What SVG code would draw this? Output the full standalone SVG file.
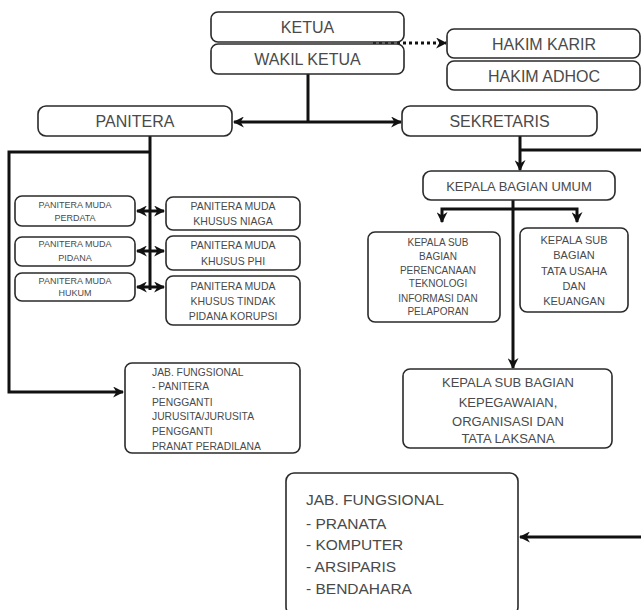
<svg xmlns="http://www.w3.org/2000/svg" width="641" height="610" viewBox="0 0 641 610">
<defs>
<style>
rect.b{fill:#fff;stroke:#2a2a2a;stroke-width:1.6}
text{font-family:"Liberation Sans",Arial,sans-serif;fill:#4a4a4a}
.c{text-anchor:middle}
.t16{font-size:16px}
.ln{fill:none;stroke:#111;stroke-width:3}
</style>
<marker id="ah" viewBox="0 0 10 10" refX="9" refY="5" markerWidth="11" markerHeight="11" markerUnits="userSpaceOnUse" orient="auto-start-reverse">
<path d="M0,0 L10,5 L0,10 L3,5 z" fill="#111"/>
</marker>
</defs>
<rect width="641" height="610" fill="#fff"/>
<g id="connectors">
<path class="ln" d="M308,74 V122"/>
<path class="ln" d="M308,122 H234" marker-end="url(#ah)"/>
<path class="ln" d="M308,122 H401" marker-end="url(#ah)"/>
<path class="ln" d="M373,43 H446" stroke-dasharray="3 3" marker-end="url(#ah)"/>
<path class="ln" d="M150,136 V290"/>
<path class="ln" d="M150,152 H9 V392 H123" marker-end="url(#ah)"/>
<path class="ln" d="M137,211 H164" marker-start="url(#ah)" marker-end="url(#ah)"/>
<path class="ln" d="M137,251 H164" marker-start="url(#ah)" marker-end="url(#ah)"/>
<path class="ln" d="M137,287 H164" marker-start="url(#ah)" marker-end="url(#ah)"/>
<path class="ln" d="M520,136 V170" marker-end="url(#ah)"/>
<path class="ln" d="M520,150 H641"/>
<path class="ln" d="M513,200 V368" marker-end="url(#ah)"/>
<path class="ln" d="M442,222 V209 H577 V222" marker-start="url(#ah)" marker-end="url(#ah)"/>
<path class="ln" d="M641,537 H520" marker-end="url(#ah)"/>
</g>
<g id="ketua"><rect class="b" x="211" y="12" width="193" height="30" rx="7"/><text class="c t16" x="307.5" y="33">KETUA</text></g>
<g id="wakil-ketua"><rect class="b" x="211" y="44" width="193" height="30" rx="7"/><text class="c t16" x="307.5" y="65">WAKIL KETUA</text></g>
<g id="hakim-karir"><rect class="b" x="447" y="29" width="193" height="29" rx="7"/><text class="c t16" x="544" y="49.5">HAKIM KARIR</text></g>
<g id="hakim-adhoc"><rect class="b" x="447" y="61" width="193" height="29" rx="7"/><text class="c t16" x="544" y="81.5">HAKIM ADHOC</text></g>
<g id="panitera"><rect class="b" x="38" y="106" width="194" height="30" rx="8"/><text class="c t16" x="135" y="127">PANITERA</text></g>
<g id="sekretaris"><rect class="b" x="402" y="106" width="195" height="30" rx="8"/><text class="c t16" x="499.5" y="127">SEKRETARIS</text></g>
<g id="pm-perdata" font-size="9"><rect class="b" x="15" y="196" width="120" height="30" rx="7"/><text class="c" x="75" y="208" font-size="9">PANITERA MUDA</text><text class="c" x="75" y="221" font-size="9">PERDATA</text></g>
<g id="pm-pidana"><rect class="b" x="15" y="237" width="120" height="29" rx="7"/><text class="c" x="75" y="247" font-size="9">PANITERA MUDA</text><text class="c" x="75" y="261" font-size="9">PIDANA</text></g>
<g id="pm-hukum"><rect class="b" x="15" y="273" width="120" height="28" rx="7"/><text class="c" x="75" y="284" font-size="9">PANITERA MUDA</text><text class="c" x="75" y="296" font-size="9">HUKUM</text></g>
<g id="pmk-niaga"><rect class="b" x="166" y="197" width="134" height="33" rx="7"/><text class="c" x="233" y="210" font-size="10.5">PANITERA MUDA</text><text class="c" x="233" y="225" font-size="10.5">KHUSUS NIAGA</text></g>
<g id="pmk-phi"><rect class="b" x="166" y="236" width="134" height="34" rx="7"/><text class="c" x="233" y="249" font-size="10.5">PANITERA MUDA</text><text class="c" x="233" y="265" font-size="10.5">KHUSUS PHI</text></g>
<g id="pmk-korupsi"><rect class="b" x="166" y="276" width="134" height="49" rx="7"/><text class="c" x="233" y="290" font-size="10.5">PANITERA MUDA</text><text class="c" x="233" y="305" font-size="10.5">KHUSUS TINDAK</text><text class="c" x="233" y="320" font-size="10.5">PIDANA KORUPSI</text></g>
<g id="jab-fungsional-panitera" font-size="10.3"><rect class="b" x="125" y="363" width="175" height="90" rx="7"/>
<text x="152" y="376" font-size="10.3">JAB. FUNGSIONAL</text><text x="152" y="390" font-size="10.3">- PANITERA</text><text x="152" y="405.5" font-size="10.3">PENGGANTI</text><text x="152" y="420" font-size="10.3">JURUSITA/JURUSITA</text><text x="152" y="435" font-size="10.3">PENGGANTI</text><text x="152" y="450" font-size="10.3">PRANAT PERADILANA</text></g>
<g id="kepala-bagian-umum"><rect class="b" x="423" y="171" width="192" height="29" rx="8"/><text class="c" x="519" y="190.5" font-size="13">KEPALA BAGIAN UMUM</text></g>
<g id="ksb-perencanaan"><rect class="b" x="368" y="232" width="132" height="90" rx="7"/>
<text class="c" x="438" y="246" font-size="10">KEPALA SUB</text><text class="c" x="438" y="260" font-size="10">BAGIAN</text><text class="c" x="438" y="274" font-size="10">PERENCANAAN</text><text class="c" x="438" y="287" font-size="10">TEKNOLOGI</text><text class="c" x="438" y="302" font-size="10">INFORMASI DAN</text><text class="c" x="438" y="315" font-size="10">PELAPORAN</text></g>
<g id="ksb-tata-usaha"><rect class="b" x="520" y="228" width="108" height="84" rx="7"/>
<text class="c" x="574" y="244" font-size="11">KEPALA SUB</text><text class="c" x="574" y="259" font-size="11">BAGIAN</text><text class="c" x="574" y="275" font-size="11">TATA USAHA</text><text class="c" x="574" y="290" font-size="11">DAN</text><text class="c" x="574" y="305" font-size="11">KEUANGAN</text></g>
<g id="ksb-kepegawaian"><rect class="b" x="403" y="369" width="209" height="79" rx="7"/>
<text class="c" x="508" y="387" font-size="13">KEPALA SUB BAGIAN</text><text class="c" x="508" y="407" font-size="13">KEPEGAWAIAN,</text><text class="c" x="508" y="426" font-size="13">ORGANISASI DAN</text><text class="c" x="508" y="443" font-size="13">TATA LAKSANA</text></g>
<g id="jab-fungsional-sekretaris"><rect class="b" x="286" y="473" width="232" height="142" rx="8"/>
<text x="306" y="504.5" font-size="15.5">JAB. FUNGSIONAL</text><text x="306" y="528.5" font-size="15.5">- PRANATA</text><text x="306" y="549.5" font-size="15.5">- KOMPUTER</text><text x="306" y="571.5" font-size="15.5">- ARSIPARIS</text><text x="306" y="593.5" font-size="15.5">- BENDAHARA</text></g>
</svg>
